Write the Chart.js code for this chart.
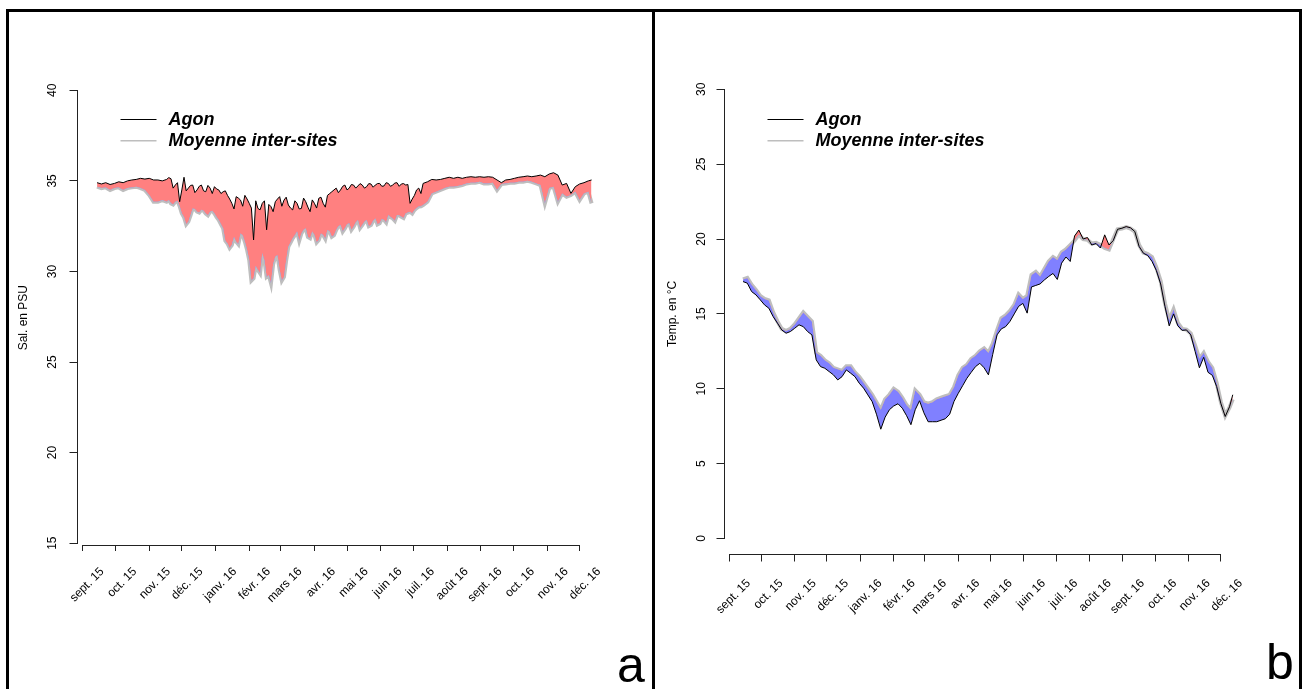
<!DOCTYPE html>
<html lang="fr">
<head>
<meta charset="UTF-8" />
<title>Agon - salinité et température</title>
<script src="https://cdn.jsdelivr.net/npm/chart.js"></script>
<style>
  body { margin: 0; background: #fff; }
  #page { position: relative; width: 1302px; height: 689px; overflow: hidden; background: #fff; }
  canvas { position: absolute; top: 0; }
  .rule { position: absolute; background: #000; }
  .tag { position: absolute; font: 50px "Liberation Sans", Arial, sans-serif; line-height: 50px; color: #000; }
</style>
</head>
<body>
<div id="page">
  <canvas id="salChart" width="651" height="689" style="left:0"></canvas>
  <canvas id="tempChart" width="651" height="689" style="left:651px"></canvas>

  <!-- frame around the two panels -->
  <div class="rule" style="left:6px; top:9px; width:1295px; height:3px"></div>
  <div class="rule" style="left:6px; top:9px; width:3px; height:680px"></div>
  <div class="rule" style="left:652px; top:9px; width:2.5px; height:680px"></div>
  <div class="rule" style="left:1299px; top:9px; width:2.5px; height:680px"></div>

  <div class="tag" style="left:617px; top:640px">a</div>
  <div class="tag" style="left:1266px; top:637px">b</div>
</div>

<script>
  // x values are days counted from 1 Sept 2015
  const monthDays = [0,30,61,91,122,153,182,213,243,274,304,335,366,396,427,457];
  const monthLabels = ['sept. 15','oct. 15','nov. 15','déc. 15','janv. 16','févr. 16','mars 16','avr. 16',
    'mai 16','juin 16','juil. 16','août 16','sept. 16','oct. 16','nov. 16','déc. 16'];

  const seriesNames = ['Agon', 'Moyenne inter-sites'];

  // salinity (PSU) - denser sampling where the record is spiky (Nov 15 - Jul 16)
  const salTicks = [15, 20, 25, 30, 35, 40];
  const salDays = [13,17,21,25,29,33,37,41,45,49,53,57,61,65,69,73,
    77,79,81,83,85,87,89,91,93,95,97,99,101,103,105,107,109,111,113,115,117,119,121,123,125,127,129,131,133,135,
    137,139,141,143,145,147,149,151,153,155,157,159,161,163,165,167,169,171,173,175,177,179,181,183,185,187,189,191,193,195,
    197,199,201,203,205,207,209,211,213,215,217,219,221,223,225,227,229,231,233,235,237,239,241,243,245,247,249,251,253,255,
    257,259,261,263,265,267,269,271,273,275,277,279,281,283,285,287,289,291,293,295,297,299,301,303,305,307,309,311,313,
    317,321,325,329,333,337,341,345,349,353,357,361,365,369,373,377,381,385,389,393,397,401,405,409,413,417,421,425,429,
    433,437,441,445,449,453,457,461,465,468];
  const salAgon = [34.9,34.83,34.9,34.8,34.86,34.95,34.9,35.0,35.05,35.08,35.14,35.1,35.14,35.05,35.05,35.0,
    35.08,35.18,35.12,34.6,34.77,34.9,33.85,34.5,35.2,34.45,
    34.6,34.75,34.77,34.35,34.5,34.7,34.77,34.45,34.4,34.75,
    34.6,34.3,34.68,34.55,34.5,34.3,34.4,34.45,34.2,34.0,
    33.76,33.45,34.13,34.05,33.94,33.6,34.2,34.0,33.76,33.5,
    31.74,33.9,33.48,33.4,33.76,33.9,32.3,33.7,33.58,33.3,
    33.85,34.0,34.13,33.6,33.94,34.1,33.67,33.5,33.4,33.9,
    33.76,33.45,33.48,34.05,33.85,33.55,33.3,33.95,33.76,33.5,
    34.04,34.1,33.76,33.55,34.2,34.3,34.4,34.5,34.6,34.35,
    34.5,34.7,34.77,34.5,34.6,34.8,34.77,34.6,34.72,34.85,
    34.77,34.6,34.68,34.85,34.83,34.65,34.77,34.85,34.86,34.7,
    34.72,34.9,34.86,34.7,34.77,34.88,34.9,34.7,34.83,34.85,
    34.77,34.8,33.76,34.0,34.2,34.5,34.6,34.3,34.86,
    34.95,35.08,35.05,35.08,
    35.14,35.2,35.14,35.2,35.14,35.2,35.23,35.2,35.23,35.2,
    35.23,35.2,35.05,34.9,35.05,35.08,35.14,35.2,35.23,35.27,
    35.23,35.27,35.32,35.23,35.38,35.45,35.32,34.77,34.86,34.31,
    34.68,34.83,34.9,35.0,35.05];
  const salMoyenne = [34.68,34.6,34.64,34.5,34.6,34.64,34.5,34.6,34.64,34.68,34.6,34.5,34.22,33.85,33.85,33.94,
    33.85,33.95,33.76,33.7,33.85,33.9,33.6,33.2,33.0,32.6,
    32.75,33.1,33.48,33.45,33.3,33.25,33.4,33.35,33.2,33.1,
    33.3,33.35,33.2,33.0,32.84,32.6,32.38,31.7,31.55,31.3,
    31.46,31.9,31.64,31.5,32.1,32.0,31.64,31.2,30.63,29.5,
    29.62,30.3,30.08,29.9,31.0,30.6,29.7,29.8,29.35,30.4,
    30.82,30.9,30.08,29.5,29.7,30.6,31.37,31.6,31.83,32.0,
    32.2,31.7,32.1,32.3,32.38,31.9,31.83,32.2,32.01,31.6,
    31.74,32.1,32.01,31.8,32.29,32.2,31.92,32.0,32.29,32.5,
    32.56,32.2,32.38,32.6,32.66,32.3,32.47,32.7,32.84,32.4,
    32.56,32.75,32.84,32.5,32.56,32.8,32.93,32.6,32.66,32.9,
    32.84,32.7,33.12,33.0,32.93,32.8,33.12,33.1,33.02,32.95,
    33.2,33.25,33.3,33.2,33.39,33.5,33.58,33.6,33.67,
    33.85,34.31,34.4,34.5,
    34.6,34.68,34.68,34.72,34.77,34.86,34.9,34.9,34.95,34.86,
    34.86,34.9,34.5,34.83,34.86,34.9,34.9,34.95,34.95,35.01,
    34.95,34.86,34.77,33.76,34.6,34.68,33.85,34.31,34.13,34.22,
    34.4,33.94,34.31,34.4,33.76];

  // temperature (°C)
  const tempTicks = [0, 5, 10, 15, 20, 25, 30];
  const tempDays = [13,17,21,25,29,33,37,41,45,49,53,57,61,65,69,73,77,81,85,89,93,97,101,105,109,113,117,121,125,129,
    133,137,141,145,149,153,157,161,165,169,173,177,181,185,189,193,197,201,205,209,213,217,221,225,229,233,237,241,245,249,
    253,257,261,265,269,273,277,281,285,289,293,297,301,305,309,313,317,321,325,329,333,337,341,345,349,353,357,361,365,369,
    373,377,381,385,389,393,397,401,405,409,413,417,421,425,429,433,437,441,445,449,453,457,461,465,468];
  const tempAgon = [17.16,17.05,16.49,16.27,15.94,15.6,15.38,14.82,14.38,13.93,
    13.71,13.82,14.04,14.27,14.15,13.82,13.6,11.93,11.48,11.37,
    11.15,10.93,10.59,10.81,11.26,11.04,10.81,10.37,10.04,9.59,
    9.14,8.3,7.3,8.1,8.6,8.85,9.0,8.7,8.2,7.6,
    8.6,9.2,8.4,7.8,7.8,7.8,7.9,8.0,8.3,9.15,
    9.7,10.2,10.7,11.1,11.48,11.7,11.4,10.93,12.3,13.6,
    14.0,14.15,14.5,15.0,15.5,15.7,15.05,16.8,16.9,17.0,
    17.27,17.5,17.7,17.3,18.39,18.8,18.5,20.2,20.6,20.0,
    20.1,19.6,19.7,19.4,20.28,19.6,19.9,20.65,20.72,20.83,
    20.75,20.5,19.5,19.05,18.9,18.5,17.9,17.0,15.5,14.2,
    15.0,14.2,13.9,13.93,13.6,12.5,11.4,12.1,11.1,10.9,
    10.15,9.0,8.15,8.8,9.6];
  const tempMoyenne = [17.3,17.4,16.94,16.6,16.2,16.0,15.9,15.1,14.5,14.0,
    13.85,14.0,14.3,14.7,15.1,14.8,14.5,12.4,12.2,11.9,
    11.7,11.4,11.3,11.2,11.5,11.5,11.1,10.8,10.4,10.0,
    9.6,9.1,8.6,9.3,9.6,10.0,9.8,9.4,8.9,8.6,
    9.9,9.6,9.1,9.0,9.1,9.3,9.4,9.5,9.6,10.1,
    10.9,11.4,11.6,12.0,12.2,12.5,12.7,12.4,13.0,13.9,
    14.7,14.9,15.2,15.6,16.3,16.0,16.2,17.6,17.8,17.5,
    18.0,18.5,18.8,18.6,19.1,19.3,19.6,19.9,20.3,20.0,
    19.95,19.7,19.75,19.6,19.4,19.3,20.0,20.65,20.7,20.8,
    20.7,20.5,19.6,19.1,19.0,18.8,18.1,17.2,15.7,14.6,
    15.3,14.4,14.0,13.95,13.7,12.9,12.0,12.4,11.8,11.4,
    10.4,9.1,8.2,8.75,9.3];

  Chart.defaults.font.family = '"Liberation Sans", Arial, sans-serif';
  Chart.defaults.color = '#000';

  // R-like axes (lines only between first and last tick) and the legend inside the plot
  const rStyle = {
    id: 'rStyle',
    afterDraw(chart) {
      const { ctx, chartArea, scales: { x, y } } = chart;
      ctx.save();
      ctx.strokeStyle = '#222';
      ctx.lineWidth = 1;
      ctx.beginPath();
      const xl = Math.round(chartArea.left) - 0.5;
      ctx.moveTo(xl, y.getPixelForValue(y.ticks[0].value));
      ctx.lineTo(xl, y.getPixelForValue(y.ticks[y.ticks.length - 1].value));
      const yb = Math.round(chartArea.bottom) + 0.5;
      ctx.moveTo(x.getPixelForValue(x.ticks[0].value), yb);
      ctx.lineTo(x.getPixelForValue(x.ticks[x.ticks.length - 1].value), yb);
      ctx.stroke();

      // legend
      const lx = chartArea.left;
      const rows = [119.5, 140.8];
      const styles = [['#000', 1.2], ['#bebebe', 1.5]];
      ctx.font = 'italic bold 18px "Liberation Sans", Arial, sans-serif';
      ctx.textBaseline = 'middle';
      ctx.fillStyle = '#000';
      chart.data.datasets.forEach((ds, i) => {
        ctx.strokeStyle = styles[i][0];
        ctx.lineWidth = styles[i][1];
        ctx.beginPath();
        ctx.moveTo(lx + 43, rows[i]);
        ctx.lineTo(lx + 79, rows[i]);
        ctx.stroke();
        ctx.fillText(ds.label, lx + 91, rows[i] + 0.5);
      });
      ctx.restore();
    }
  };

  function makeChart(id, xs, agon, moyenne, yTicks, cfg) {
    return new Chart(document.getElementById(id), {
      type: 'line',
      data: {
        datasets: [
          {
            label: seriesNames[0],
            data: xs.map((d, i) => ({ x: d, y: agon[i] })),
            borderColor: '#000',
            borderWidth: 1,
            pointRadius: 0,
            tension: 0,
            fill: { target: 1, above: 'rgb(255,128,128)', below: 'rgb(128,128,255)' }
          },
          {
            label: seriesNames[1],
            data: xs.map((d, i) => ({ x: d, y: moyenne[i] })),
            borderColor: '#bebebe',
            borderWidth: 4,
            pointRadius: 0,
            tension: 0,
            fill: false
          }
        ]
      },
      options: {
        responsive: false,
        animation: false,
        devicePixelRatio: 1,
        events: [],
        layout: { padding: cfg.padding },
        plugins: { legend: { display: false }, tooltip: { enabled: false } },
        scales: {
          x: {
            type: 'linear',
            min: cfg.xMin,
            max: cfg.xMax,
            afterBuildTicks: s => { s.ticks = monthDays.map(v => ({ value: v })); },
            afterFit: s => { s.height = 100; },
            border: { display: false },
            grid: { drawOnChartArea: false, drawTicks: true, tickLength: cfg.xTick, color: '#222' },
            ticks: {
              autoSkip: false,
              minRotation: 45,
              maxRotation: 45,
              labelOffset: cfg.labelOffset,
              padding: cfg.xPad,
              font: { size: 12 },
              callback: (v, i) => monthLabels[i]
            }
          },
          y: {
            min: cfg.yMin,
            max: cfg.yMax,
            afterBuildTicks: s => { s.ticks = yTicks.map(v => ({ value: v })); },
            afterFit: s => { s.width = cfg.yWidth; },
            border: { display: false },
            grid: { drawOnChartArea: false, drawTicks: true, tickLength: 8, color: '#222' },
            ticks: { minRotation: 90, crossAlign: 'center', padding: cfg.yPad, font: { size: 12 } },
            title: { display: true, text: cfg.title, font: { size: 12 }, padding: { top: cfg.titlePad, bottom: 0 } }
          }
        }
      },
      plugins: [rStyle]
    });
  }

  makeChart('salChart', salDays, salAgon, salMoyenne, salTicks, {
    padding: { left: 0, top: 90.3, right: 39.2, bottom: 44 },
    xMin: -5, xMax: 486.6, yMin: 14.9, yMax: 40,
    yWidth: 77.5, yPad: 10.3, titlePad: 16.6,
    xTick: 6, xPad: 13.7, labelOffset: 19.3,
    title: 'Sal. en PSU'
  });

  makeChart('tempChart', tempDays, tempAgon, tempMoyenne, tempTicks, {
    padding: { left: 0, top: 74.3, right: 49, bottom: 35.5 },
    xMin: -4.2, xMax: 486.8, yMin: -1, yMax: 31,
    yWidth: 73.5, yPad: 8.1, titlePad: 14.6,
    xTick: 8, xPad: 14.8, labelOffset: 19.7,
    title: 'Temp. en °C'
  });
</script>
</body>
</html>
